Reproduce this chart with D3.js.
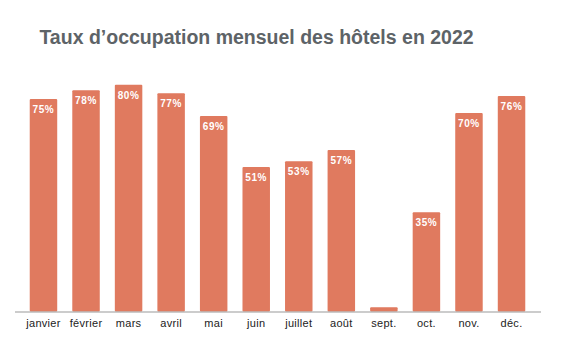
<!DOCTYPE html>
<html>
<head>
<meta charset="utf-8">
<script src="https://cdn.jsdelivr.net/npm/d3@7"></script>
<style>
  html, body { margin: 0; padding: 0; background: #fff; }
  svg { display: block; }
</style>
</head>
<body>
<svg id="chart" width="576" height="340"></svg>
<script>
// Monthly hotel occupancy rates, 2022 (percent)
const months = ["janvier", "février", "mars", "avril", "mai", "juin",
                "juillet", "août", "sept.", "oct.", "nov.", "déc."];
const occupancy = [75, 78, 80, 77, 69, 51, 53, 57, 1.5, 35, 70, 76];
// Months whose value is printed on the bar
const labelled = [true, true, true, true, true, true, true, true, false, true, true, true];

const title = "Taux d’occupation mensuel des hôtels en 2022";

const svg = d3.select("#chart");
const baseY = 311.5;

const x = d3.scaleBand()
  .domain(months)
  .range([22.2, 532.8])
  .paddingInner(0.354)
  .paddingOuter(0.177);

const y = d3.scaleLinear()
  .domain([0, 100])
  .range([baseY, 28]);

svg.append("text")
  .attr("x", 256.5)
  .attr("y", 44)
  .attr("text-anchor", "middle")
  .attr("font-family", "Liberation Sans, Arial, sans-serif")
  .attr("font-weight", "bold")
  .attr("font-size", 19.5)
  .attr("fill", "#5d6367")
  .text(title);

const data = months.map((m, i) => ({ month: m, value: occupancy[i], show: labelled[i] }));

svg.append("g")
  .selectAll("rect")
  .data(data)
  .join("rect")
  .attr("x", d => x(d.month))
  .attr("y", d => y(d.value))
  .attr("width", x.bandwidth())
  .attr("height", d => baseY - y(d.value))
  .attr("rx", 1)
  .attr("fill", "#e07a5f");

svg.append("g")
  .selectAll("text")
  .data(data.filter(d => d.show))
  .join("text")
  .attr("x", d => x(d.month) + x.bandwidth() / 2)
  .attr("y", d => y(d.value) + 14)
  .attr("text-anchor", "middle")
  .attr("font-family", "Liberation Sans, Arial, sans-serif")
  .attr("font-weight", "bold")
  .attr("font-size", 10)
  .attr("letter-spacing", 0.6)
  .attr("fill", "#ffffff")
  .text(d => `${d.value}%`);

// Baseline axis with month names
const axis = svg.append("g")
  .attr("transform", `translate(0,${baseY})`)
  .call(d3.axisBottom(x).tickSize(0).tickPadding(8));

axis.select(".domain")
  .attr("d", "M15,0.5H541")
  .attr("stroke", "#9a9a9a")
  .attr("stroke-width", 1.2);

axis.selectAll(".tick text")
  .attr("font-family", "Liberation Sans, Arial, sans-serif")
  .attr("font-size", 11)
  .attr("letter-spacing", 0.3)
  .attr("fill", "#222");
</script>
</body>
</html>
